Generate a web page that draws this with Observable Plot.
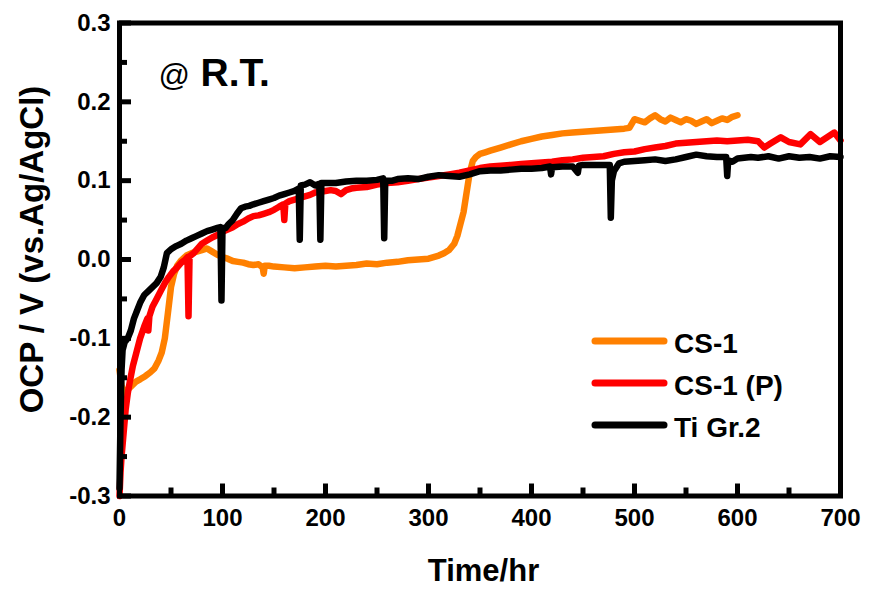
<!DOCTYPE html>
<html><head><meta charset="utf-8">
<script src="https://cdn.jsdelivr.net/npm/d3@7"></script>
<script src="https://cdn.jsdelivr.net/npm/@observablehq/plot@0.6"></script>
<style>
body{margin:0;background:#fff;}
#wrap{position:relative;width:887px;height:589px;overflow:hidden;}
#legend{position:absolute;left:0;top:0;}
</style></head><body><div id="wrap"></div>
<script>
// Series names and colours
const seriesNames = ["CS-1", "CS-1 (P)", "Ti Gr.2"];
const seriesColors = ["#ff8000", "#ff0000", "#000000"];

// Tick values
const xMajor = [0, 100, 200, 300, 400, 500, 600, 700];
const xMinor = [50, 150, 250, 350, 450, 550, 650];
const yMajor = [-0.3, -0.2, -0.1, 0, 0.1, 0.2, 0.3];
const yMinor = [-0.25, -0.15, -0.05, 0.05, 0.15, 0.25];

// CS-1 : [time (hr), OCP (V)]
const cs1 = [[0,-0.14],[2,-0.16],[5,-0.17],[8,-0.165],[12,-0.16],[16,-0.155],[20,-0.152],[25,-0.148],[30,-0.143],[34,-0.138],[38,-0.128],[41,-0.118],[44,-0.1],[47,-0.068],[50,-0.035],[53,-0.018],[56,-0.008],[60,-0.001],[65,0.005],[70,0.008],[75,0.01],[80,0.012],[85,0.014],[90,0.01],[95,0.006],[100,0.003],[105,0.001],[110,-0.002],[115,-0.003],[120,-0.004],[125,-0.006],[130,-0.007],[135,-0.006],[139,-0.01],[140,-0.018],[141,-0.008],[145,-0.008],[150,-0.009],[160,-0.01],[170,-0.011],[180,-0.01],[190,-0.009],[200,-0.008],[210,-0.009],[220,-0.008],[230,-0.007],[240,-0.005],[250,-0.006],[260,-0.004],[270,-0.003],[280,-0.001],[290,0.0],[300,0.001],[305,0.003],[310,0.005],[315,0.008],[320,0.012],[325,0.02],[328,0.03],[331,0.045],[334,0.06],[337,0.085],[340,0.11],[343,0.125],[346,0.13],[350,0.134],[355,0.136],[360,0.138],[365,0.14],[370,0.142],[380,0.146],[390,0.15],[400,0.153],[410,0.156],[420,0.158],[430,0.16],[440,0.161],[450,0.162],[460,0.163],[470,0.164],[480,0.165],[490,0.166],[495,0.167],[500,0.178],[505,0.176],[510,0.174],[515,0.179],[520,0.183],[525,0.178],[530,0.175],[535,0.18],[540,0.177],[545,0.174],[550,0.178],[555,0.176],[560,0.172],[565,0.175],[570,0.178],[575,0.173],[580,0.176],[585,0.179],[590,0.177],[595,0.181],[600,0.183]];

// CS-1 (P)
const cs1p = [[0,-0.3],[1,-0.27],[2,-0.25],[4,-0.22],[6,-0.19],[8,-0.17],[10,-0.155],[13,-0.135],[16,-0.12],[20,-0.1],[24,-0.085],[27,-0.075],[28,-0.09],[29,-0.072],[32,-0.06],[36,-0.05],[40,-0.04],[44,-0.03],[48,-0.022],[52,-0.015],[56,-0.01],[60,-0.004],[64,0.0],[66,0.003],[67,-0.072],[68,0.004],[72,0.008],[76,0.014],[80,0.02],[85,0.024],[90,0.028],[95,0.031],[100,0.035],[105,0.038],[110,0.041],[115,0.045],[120,0.048],[125,0.052],[130,0.055],[135,0.056],[140,0.058],[145,0.06],[150,0.063],[155,0.067],[159,0.07],[160,0.05],[161,0.071],[165,0.074],[170,0.076],[175,0.078],[180,0.08],[185,0.082],[190,0.085],[195,0.086],[200,0.087],[205,0.088],[210,0.087],[215,0.083],[220,0.088],[225,0.09],[230,0.091],[240,0.092],[250,0.095],[260,0.097],[270,0.098],[280,0.1],[290,0.102],[300,0.104],[310,0.106],[320,0.108],[330,0.11],[340,0.113],[350,0.116],[360,0.118],[370,0.119],[380,0.12],[390,0.121],[400,0.122],[410,0.123],[420,0.124],[430,0.126],[440,0.127],[450,0.129],[460,0.13],[470,0.131],[480,0.134],[490,0.136],[500,0.137],[510,0.14],[520,0.142],[530,0.144],[540,0.147],[550,0.148],[560,0.149],[570,0.15],[580,0.151],[590,0.15],[600,0.151],[610,0.152],[620,0.15],[626,0.142],[632,0.147],[642,0.155],[650,0.149],[661,0.146],[671,0.159],[680,0.149],[687,0.155],[694,0.161],[700,0.151]];

// Ti Gr.2
const tiGr2 = [[0,-0.29],[1,-0.2],[2,-0.14],[3,-0.115],[5,-0.105],[8,-0.1],[11,-0.09],[14,-0.075],[17,-0.065],[20,-0.055],[24,-0.045],[28,-0.04],[32,-0.035],[36,-0.03],[40,-0.022],[43,-0.01],[46,0.008],[50,0.013],[55,0.017],[60,0.02],[65,0.024],[70,0.027],[75,0.03],[80,0.033],[85,0.036],[90,0.038],[95,0.04],[98,0.041],[99,-0.052],[100,0.04],[103,0.04],[106,0.045],[110,0.05],[114,0.058],[118,0.065],[122,0.067],[126,0.068],[130,0.07],[135,0.072],[140,0.074],[145,0.076],[150,0.078],[155,0.081],[160,0.083],[165,0.085],[170,0.087],[174,0.09],[175,0.025],[176,0.094],[180,0.095],[185,0.098],[190,0.094],[194,0.096],[195,0.025],[196,0.097],[200,0.097],[210,0.097],[220,0.099],[230,0.1],[240,0.1],[250,0.101],[256,0.103],[257,0.027],[258,0.1],[265,0.1],[270,0.102],[280,0.103],[290,0.102],[300,0.105],[310,0.107],[320,0.106],[330,0.105],[340,0.108],[350,0.112],[360,0.113],[370,0.113],[380,0.114],[390,0.115],[400,0.115],[410,0.116],[418,0.118],[419,0.108],[420,0.117],[430,0.118],[440,0.118],[445,0.11],[446,0.119],[450,0.12],[460,0.12],[470,0.12],[476,0.12],[477,0.053],[478,0.1],[480,0.112],[485,0.122],[490,0.124],[500,0.125],[510,0.126],[520,0.127],[530,0.125],[540,0.127],[550,0.13],[560,0.133],[570,0.131],[580,0.13],[589,0.13],[590,0.106],[591,0.126],[595,0.124],[600,0.128],[613,0.13],[620,0.129],[630,0.131],[640,0.128],[650,0.131],[660,0.129],[670,0.13],[680,0.128],[690,0.131],[700,0.13]];

const seriesData = [cs1, cs1p, tiGr2];

const FONT = "Arial, 'Liberation Sans', sans-serif";
const lineOpts = {strokeWidth: 6.5, strokeLinejoin: "round", strokeLinecap: "round"};

// plot frame geometry (layout)
const W = 887, H = 589, ML = 119, MR = 47, MT = 22.5, MB = 93.5;
const tickW = 5, majorLen = 12, minorLen = 8;

const chart = Plot.plot({
  width: W, height: H,
  marginLeft: ML, marginRight: MR, marginTop: MT, marginBottom: MB,
  x: {domain: [0, 700]},
  y: {domain: [-0.3, 0.3]},
  style: {fontFamily: FONT, fontWeight: "bold", fontSize: "24px", color: "black", background: "white", overflow: "visible"},
  marks: [
    ...seriesData.map((s, i) => Plot.line(s, {x: d => d[0], y: d => d[1], stroke: seriesColors[i], ...lineOpts})),
    Plot.frame({strokeWidth: 5, stroke: "#000"}),
    // inward ticks (negative tick size)
    Plot.axisX({ticks: xMajor, tickSize: -majorLen, stroke: "#000", strokeWidth: tickW, tickFormat: () => "", label: null}),
    Plot.axisX({ticks: xMinor, tickSize: -minorLen, stroke: "#000", strokeWidth: tickW, tickFormat: () => "", label: null}),
    Plot.axisY({ticks: yMajor, tickSize: -majorLen, stroke: "#000", strokeWidth: tickW, tickFormat: () => "", label: null}),
    Plot.axisY({ticks: yMinor, tickSize: -minorLen, stroke: "#000", strokeWidth: tickW, tickFormat: () => "", label: null}),
    // tick labels
    Plot.axisX({ticks: xMajor, tickSize: 0, tickPadding: 13, fontSize: 24, fontWeight: "bold", tickFormat: d => String(d), label: null}),
    Plot.axisY({ticks: yMajor, tickSize: 0, tickPadding: 9, fontSize: 24, fontWeight: "bold", tickFormat: d => d.toFixed(1), label: null}),
    Plot.text(["OCP / V (vs.Ag/AgCl)"], {frameAnchor: "left", dx: -87, dy: -10, rotate: -90, fontSize: 33, fontWeight: "bold", textAnchor: "middle", lineAnchor: "middle"}),
    Plot.text(["Time/hr"], {frameAnchor: "bottom", dx: 3.5, dy: 84.5, fontSize: 31, fontWeight: "bold", textAnchor: "middle", lineAnchor: "bottom"}),
    Plot.text(["@"], {frameAnchor: "top-left", dx: 39, dy: 62.5, fontSize: 31, fontWeight: "normal", textAnchor: "start", lineAnchor: "bottom"}),
    Plot.text(["R.T."], {frameAnchor: "top-left", dx: 81, dy: 62.5, fontSize: 39, fontWeight: "bold", textAnchor: "start", lineAnchor: "bottom"})
  ]
});
const wrap = document.getElementById("wrap");
wrap.appendChild(chart);

// Legend overlay
const leg = d3.create("svg").attr("id", "legend").attr("width", W).attr("height", H)
  .style("font-family", FONT).style("font-weight", "bold");
seriesNames.forEach((name, i) => {
  const y = 341 + i * 42;
  leg.append("line").attr("x1", 595).attr("x2", 664).attr("y1", y).attr("y2", y)
    .attr("stroke", seriesColors[i]).attr("stroke-width", 7).attr("stroke-linecap", "round");
  leg.append("text").attr("x", 674).attr("y", y + 12).attr("font-size", 28).attr("fill", "black").text(name);
});
wrap.appendChild(leg.node());
</script></body></html>
